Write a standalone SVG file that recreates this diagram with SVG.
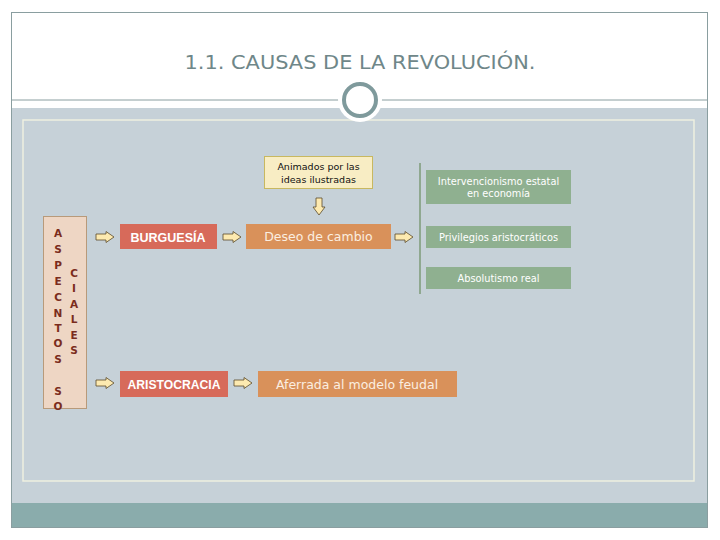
<svg xmlns="http://www.w3.org/2000/svg" width="720" height="540" viewBox="0 0 720 540">
<style>
.ttl{font-family:"DejaVu Sans","Liberation Sans",sans-serif;font-size:19px;fill:#6f8789}
.vl{font-family:"DejaVu Sans",sans-serif;font-size:10.5px;font-weight:bold;fill:#7b2c1c;text-anchor:middle}
.big{font-family:"Liberation Sans",Arial,sans-serif;font-size:13.5px;font-weight:bold;fill:#ffffff;text-anchor:middle}
.or{font-family:"DejaVu Sans",sans-serif;font-size:12.5px;fill:#fbeee0;text-anchor:middle}
.sm{font-family:"DejaVu Sans",sans-serif;font-size:9.8px;fill:#ffffff;text-anchor:middle}
.an{font-family:"DejaVu Sans",sans-serif;font-size:9.5px;fill:#111;text-anchor:middle}
.arr{fill:#fdeab0;stroke:#5a4a2a;stroke-width:0.8}
</style>
<defs>
<path id="ra" class="arr" d="M0,-3 H10 V-5.5 L18,0 L10,5.5 V3 H0 Z"/>
<path id="da" class="arr" d="M-3,0 V9 H-6 L0,17 L6,9 H3 V0 Z"/>
</defs>
<rect width="720" height="540" fill="#ffffff"/>
<g id="frame">
<rect x="11" y="108" width="697" height="395" fill="#c6d1d8"/>
<rect x="11" y="503" width="697" height="24" fill="#8aacac"/>
<rect x="11.5" y="12.5" width="696" height="515" fill="none" stroke="#8a9ea0" stroke-width="1"/>
<line x1="11" y1="100" x2="708" y2="100" stroke="#8a9ea0" stroke-width="1"/>
<rect x="23" y="120" width="671" height="361" fill="none" stroke="#eef0e0" stroke-width="1.5"/>
<circle cx="360" cy="100" r="22" fill="#ffffff"/>
<circle cx="360" cy="100" r="16" fill="#ffffff" stroke="#7f9a9c" stroke-width="4"/>
</g>
<g id="title"><text class="ttl" x="360" y="69" text-anchor="middle" textLength="351" lengthAdjust="spacingAndGlyphs">1.1. CAUSAS DE LA REVOLUCIÓN.</text></g>
<g id="connectors">
<use href="#ra" x="96" y="237"/>
<use href="#ra" x="223" y="237"/>
<use href="#ra" x="395" y="237"/>
<use href="#ra" x="96" y="383"/>
<use href="#ra" x="234" y="383"/>
<use href="#da" x="319" y="198"/>
<line x1="420" y1="163" x2="420" y2="294" stroke="#8fa890" stroke-width="2"/>
</g>
<g id="aspectos">
<rect x="43.5" y="216.5" width="43" height="192" fill="#eed6c4" stroke="#b89a7a" stroke-width="1"/>
<text class="vl" x="58" y="237">A</text>
<text class="vl" x="58" y="253">S</text>
<text class="vl" x="58" y="269">P</text>
<text class="vl" x="58" y="285">E</text>
<text class="vl" x="58" y="301">C</text>
<text class="vl" x="58" y="317">N</text>
<text class="vl" x="58" y="332">T</text>
<text class="vl" x="58" y="347">O</text>
<text class="vl" x="58" y="363">S</text>
<text class="vl" x="58" y="395">S</text>
<text class="vl" x="58" y="410">O</text>
<text class="vl" x="74" y="277">C</text>
<text class="vl" x="74" y="292">I</text>
<text class="vl" x="74" y="308">A</text>
<text class="vl" x="74" y="323">L</text>
<text class="vl" x="74" y="339">E</text>
<text class="vl" x="74" y="354">S</text>
</g>
<g id="burguesia">
<rect x="120" y="224" width="97" height="25" fill="#d76a5a"/>
<text class="big" x="168" y="241.5" textLength="75" lengthAdjust="spacingAndGlyphs">BURGUESÍA</text>
</g>
<g id="aristocracia">
<rect x="120" y="371" width="108" height="26" fill="#d76a5a"/>
<text class="big" x="174" y="388.5" textLength="93" lengthAdjust="spacingAndGlyphs">ARISTOCRACIA</text>
</g>
<g id="animados">
<rect x="264.5" y="156.5" width="108" height="32" fill="#f8edc4" stroke="#c8b860" stroke-width="1"/>
<text class="an" x="318.5" y="170">Animados por las</text>
<text class="an" x="318.5" y="183">ideas ilustradas</text>
</g>
<g id="deseo">
<rect x="246" y="224" width="145" height="25" fill="#d9915a"/>
<text class="or" x="318.5" y="241">Deseo de cambio</text>
</g>
<g id="aferrada">
<rect x="258" y="371" width="199" height="26" fill="#d9915a"/>
<text class="or" x="357" y="388.5">Aferrada al modelo feudal</text>
</g>
<g id="intervencionismo">
<rect x="426" y="170" width="145" height="34" fill="#8fb090"/>
<text class="sm" x="498.5" y="184.5">Intervencionismo estatal</text>
<text class="sm" x="498.5" y="197">en economía</text>
</g>
<g id="privilegios">
<rect x="426" y="226" width="145" height="22" fill="#8fb090"/>
<text class="sm" x="498.5" y="240.5">Privilegios aristocráticos</text>
</g>
<g id="absolutismo">
<rect x="426" y="267" width="145" height="22" fill="#8fb090"/>
<text class="sm" x="498.5" y="281.5">Absolutismo real</text>
</g>
</svg>
